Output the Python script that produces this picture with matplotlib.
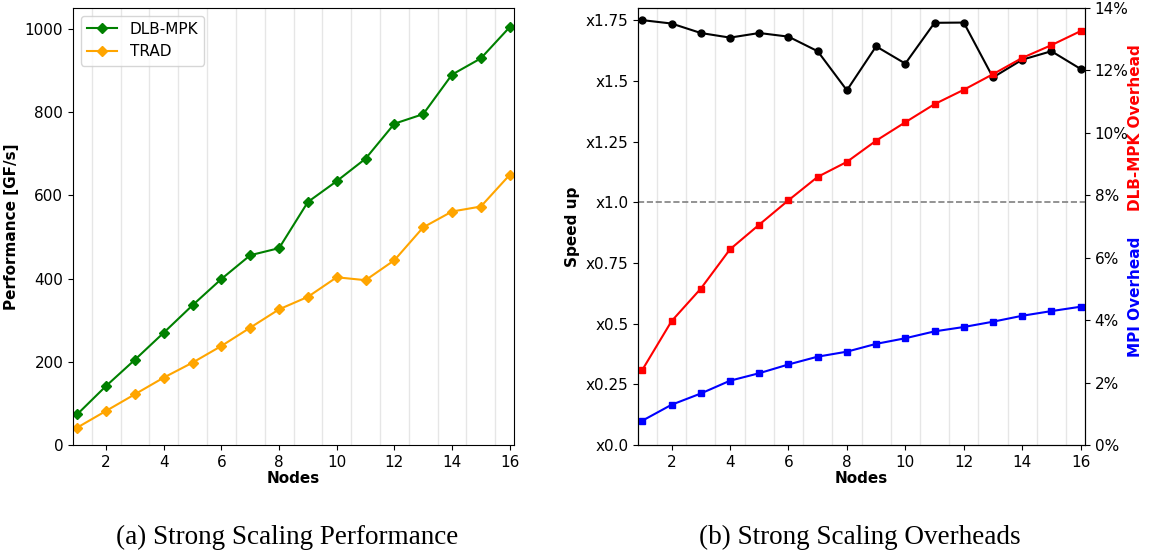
import numpy as np
import matplotlib
matplotlib.use("Agg")
import matplotlib.pyplot as plt
from matplotlib.ticker import FuncFormatter

nodes = list(range(1, 17))

# (a) performance in GF/s
perf_dlb = [74, 142, 205, 270, 336, 399, 456, 473, 584, 634, 688, 772, 795, 890, 929, 1004]
perf_trad = [42, 82, 122, 162, 198, 238, 282, 326, 356, 403, 396, 444, 523, 561, 573, 649]

# (b) speed up and overheads (%)
speedup = [1.750, 1.736, 1.697, 1.678, 1.697, 1.682, 1.622, 1.461,
           1.642, 1.571, 1.739, 1.740, 1.514, 1.587, 1.622, 1.549]
dlb_overhead = [2.41, 3.97, 5.01, 6.27, 7.06, 7.84, 8.59, 9.07,
                9.75, 10.34, 10.92, 11.38, 11.88, 12.40, 12.81, 13.26]
mpi_overhead = [0.78, 1.29, 1.65, 2.06, 2.30, 2.58, 2.83, 2.99,
                3.24, 3.42, 3.64, 3.78, 3.95, 4.14, 4.29, 4.43]

speed_ticks = [0.0, 0.25, 0.5, 0.75, 1.0, 1.25, 1.5, 1.75]
speed_labels = ['x0.0', 'x0.25', 'x0.5', 'x0.75', 'x1.0', 'x1.25', 'x1.5', 'x1.75']

plt.rcParams['font.size'] = 11

fig = plt.figure(figsize=(11.49, 5.54), dpi=100)
ax1 = fig.add_axes([73/1149, 1-445/554, 441/1149, 437/554])
ax2 = fig.add_axes([638/1149, 1-445/554, 447/1149, 437/554])

def half_grid(ax):
    ax.set_xticks(np.arange(1.5, 16, 1), minor=True)
    ax.tick_params(axis='x', which='minor', length=0)
    ax.grid(which='minor', axis='x', color='#e6e6e6', linewidth=1)
    ax.set_axisbelow(True)

ax1.plot(nodes, perf_dlb, '-D', color='green', markersize=5, label='DLB-MPK')
ax1.plot(nodes, perf_trad, '-D', color='orange', markersize=5, label='TRAD')
ax1.set_xlim(0.85, 16.15)
ax1.set_ylim(0, 1050)
ax1.set_xticks(range(2, 17, 2))
half_grid(ax1)
ax1.set_xlabel('Nodes', fontweight='bold', labelpad=1)
ax1.set_ylabel('Performance [GF/s]', fontweight='bold')
ax1.legend(loc='upper left', fontsize=11)

ax2.plot(nodes, speedup, '-o', color='black', markersize=5)
ax2.axhline(1.0, color='gray', linestyle='--', linewidth=1.2)
ax2.set_xlim(0.85, 16.15)
ax2.set_ylim(0, 1.8)
ax2.set_yticks(speed_ticks)
ax2.set_yticklabels(speed_labels)
ax2.set_xticks(range(2, 17, 2))
half_grid(ax2)
ax2.set_xlabel('Nodes', fontweight='bold', labelpad=1)
ax2.set_ylabel('Speed up', fontweight='bold')

ax3 = ax2.twinx()
ax3.plot(nodes, dlb_overhead, '-s', color='red', markersize=5)
ax3.plot(nodes, mpi_overhead, '-s', color='blue', markersize=5)
ax3.set_ylim(0, 14)
ax3.set_yticks(range(0, 15, 2))
ax3.yaxis.set_major_formatter(FuncFormatter(lambda v, p: '%d%%' % v))
fig.text(1136/1149, 1-128/554, 'DLB-MPK Overhead', color='red', fontweight='bold',
         rotation=90, ha='center', va='center', fontsize=11)
fig.text(1136/1149, 1-297/554, 'MPI Overhead', color='blue', fontweight='bold',
         rotation=90, ha='center', va='center', fontsize=11)

fig.text(287/1149, 1-537/554, '(a) Strong Scaling Performance', family='Liberation Serif',
         ha='center', va='center', fontsize=19.5)
fig.text(860/1149, 1-537/554, '(b) Strong Scaling Overheads', family='Liberation Serif',
         ha='center', va='center', fontsize=19.5)

fig.savefig('out.png', dpi=100)
